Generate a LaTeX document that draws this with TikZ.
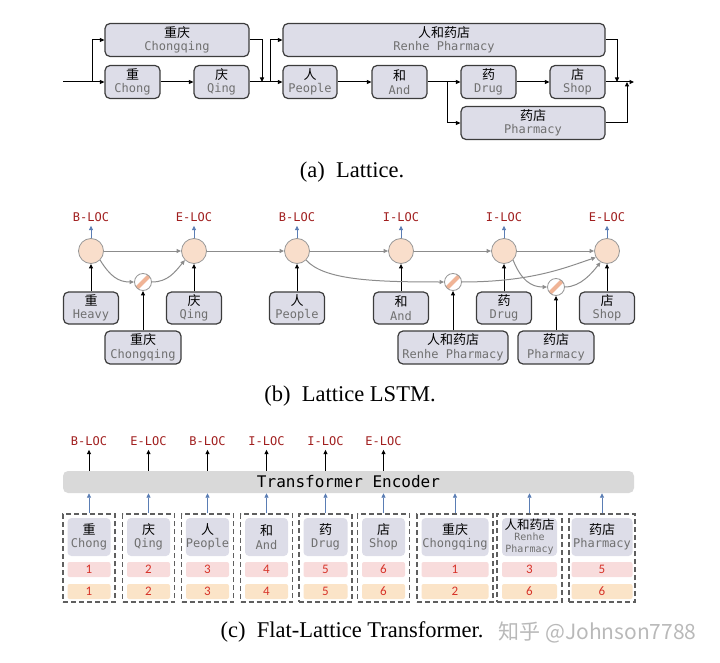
\documentclass[tikz,border=0pt]{standalone}
\usepackage{fontspec}
\setmainfont{Liberation Serif}
\newfontfamily\cjk{Noto Sans CJK SC}
\newfontfamily\mono{DejaVu Sans Mono}
\newfontfamily\numfont{Carlito}
\usepackage{xcolor}
\usetikzlibrary{arrows.meta, positioning}

\definecolor{boxfill}{RGB}{221,221,232}
\definecolor{boxline}{RGB}{60,60,60}
\definecolor{engray}{RGB}{112,112,112}
\definecolor{cellfill}{RGB}{249,222,203}
\definecolor{stripe}{RGB}{240,180,150}
\definecolor{cellline}{RGB}{150,150,150}
\definecolor{tagred}{RGB}{160,30,30}
\definecolor{arrowblue}{RGB}{90,125,180}
\definecolor{linegray}{RGB}{140,140,140}
\definecolor{encfill}{RGB}{217,217,217}
\definecolor{posfill}{RGB}{248,220,220}
\definecolor{posfillb}{RGB}{251,228,200}
\definecolor{numred}{RGB}{215,50,40}
\definecolor{dashline}{RGB}{95,95,95}
\definecolor{markgray}{RGB}{185,185,185}

% chinese word over its english gloss
\newcommand{\wlabel}[2]{{\cjk\fontsize{13}{13}\selectfont #1}\\{\mono\fontsize{12}{12}\selectfont\color{engray}#2}}

\tikzset{
    wordbox/.style={
        rectangle,
        rounded corners=5pt,
        draw=boxline,
        line width=1.2pt,
        fill=boxfill,
        minimum height=33pt,
        inner sep=0pt,
        align=center,
        font=\fontsize{12}{13.5}\selectfont
    },
    tokbox/.style={
        rectangle,
        rounded corners=4pt,
        fill=boxfill,
        minimum height=38pt,
        inner sep=0pt,
        align=center,
        font=\fontsize{12}{13.5}\selectfont
    },
    posbox/.style={
        rectangle,
        rounded corners=2pt,
        fill=posfill,
        minimum height=15pt,
        inner sep=0pt,
        text=numred,
        font=\numfont\fontsize{13}{13}\selectfont
    },
    posboxb/.style={posbox, fill=posfillb},
    grp/.style={
        rectangle,
        draw=dashline,
        dash pattern=on 5pt off 3pt,
        line width=1.1pt,
        minimum height=88pt,
        inner sep=0pt
    },
    cell/.style={circle, draw=cellline, line width=0.8pt, fill=cellfill, minimum size=25pt, inner sep=0pt},
    gate/.style={circle, draw=cellline, line width=0.8pt, fill=white, minimum size=17pt, inner sep=0pt,
        path picture={\draw[stripe, line width=4pt] (path picture bounding box.south west) -- (path picture bounding box.north east);}},
    tagtxt/.style={text=tagred, inner sep=4pt, font=\mono\fontsize{12}{12}\selectfont},
    encoder/.style={rectangle, rounded corners=5pt, fill=encfill, inner sep=0pt, font=\mono\fontsize{16}{16}\selectfont},
    subcap/.style={font=\fontsize{22.5}{24}\selectfont},
    watermark/.style={text=markgray, font=\cjk\fontsize{21}{21}\selectfont},
    flow/.style={-{Triangle[length=4.5pt, width=4pt]}, line width=1pt, draw=black},
    grayflow/.style={flow, draw=linegray},
    blueflow/.style={flow, draw=arrowblue, line width=0.8pt}
}

\begin{document}
\begin{tikzpicture}[x=1pt, y=-1pt]
    \useasboundingbox (0,0) rectangle (720,663);

    % (a) lattice
    \node[wordbox, minimum width=144pt] (chongqing) at (177,40) {\wlabel{重庆}{Chongqing}};
    \node[wordbox, minimum width=55pt] (chong) at (132.5,82) {\wlabel{重}{Chong}};
    \node[wordbox, minimum width=55pt] (qing) at (221.5,82) {\wlabel{庆}{Qing}};
    \node[wordbox, minimum width=322pt] (renhe) at (444,40) {\wlabel{人和药店}{Renhe Pharmacy}};
    \node[wordbox, minimum width=54pt] (ren) at (310,82) {\wlabel{人}{People}};
    \node[wordbox, minimum width=55pt] (he) at (399.5,82) {\wlabel{和}{And}};
    \node[wordbox, minimum width=55pt] (yao) at (488.5,82) {\wlabel{药}{Drug}};
    \node[wordbox, minimum width=55pt] (dian) at (577.5,82) {\wlabel{店}{Shop}};
    \node[wordbox, minimum width=144pt] (yaodian) at (533,123) {\wlabel{药店}{Pharmacy}};

    \coordinate (start) at (63,82);
    \coordinate (split1) at (92,82);
    \coordinate (join1) at (262,82);
    \coordinate (split2) at (270,82);
    \coordinate (split3) at (447,82);
    \coordinate (join2) at (617,82);
    \coordinate (join3) at (627,82);
    \coordinate (stop) at (634,82);

    \draw[flow] (start) -- (chong);
    \draw[flow] (split1) |- (chongqing);
    \draw[flow] (chong) -- (qing);
    \draw[flow] (qing) -- (ren);
    \draw[flow] (chongqing) -| (join1);
    \draw[flow] (split2) |- (renhe);
    \draw[flow] (ren) -- (he);
    \draw[flow] (he) -- (yao);
    \draw[flow] (split3) |- (yaodian);
    \draw[flow] (yao) -- (dian);
    \draw[flow] (dian) -- (stop);
    \draw[flow] (renhe) -| (join2);
    \draw[flow] (yaodian) -| (join3);

    \node[subcap] (capa) at (352,172) {(a)\hspace{0.5em}Lattice.};

    % (b) lattice lstm
    \node[cell] (cell1) at (91,251) {};
    \node[cell] (cell2) at (194,251) {};
    \node[cell] (cell3) at (297,251) {};
    \node[cell] (cell4) at (401,251) {};
    \node[cell] (cell5) at (504,251) {};
    \node[cell] (cell6) at (607,251) {};

    \node[tagtxt] (tag1) at (91,217) {B-LOC};
    \node[tagtxt] (tag2) at (194,217) {E-LOC};
    \node[tagtxt] (tag3) at (297,217) {B-LOC};
    \node[tagtxt] (tag4) at (401,217) {I-LOC};
    \node[tagtxt] (tag5) at (504,217) {I-LOC};
    \node[tagtxt] (tag6) at (607,217) {E-LOC};

    \node[gate] (gate1) at (143,282) {};
    \node[gate] (gate2) at (453,282) {};
    \node[gate] (gate3) at (556,287) {};

    \node[wordbox, minimum width=55pt, minimum height=32pt] (lchong) at (91,308) {\wlabel{重}{Heavy}};
    \node[wordbox, minimum width=55pt, minimum height=32pt] (lqing) at (194,308) {\wlabel{庆}{Qing}};
    \node[wordbox, minimum width=55pt, minimum height=32pt] (lren) at (297,308) {\wlabel{人}{People}};
    \node[wordbox, minimum width=55pt, minimum height=32pt] (lhe) at (401,308) {\wlabel{和}{And}};
    \node[wordbox, minimum width=55pt, minimum height=32pt] (lyao) at (504,308) {\wlabel{药}{Drug}};
    \node[wordbox, minimum width=55pt, minimum height=32pt] (ldian) at (607,308) {\wlabel{店}{Shop}};
    \node[wordbox, minimum width=76pt, minimum height=33pt] (lchongqing) at (143,347.5) {\wlabel{重庆}{Chongqing}};
    \node[wordbox, minimum width=110pt, minimum height=33pt] (lrenhe) at (453,347.5) {\wlabel{人和药店}{Renhe Pharmacy}};
    \node[wordbox, minimum width=76pt, minimum height=33pt] (lyaodian) at (556,347.5) {\wlabel{药店}{Pharmacy}};

    \draw[blueflow] (cell1) -- (tag1);
    \draw[blueflow] (cell2) -- (tag2);
    \draw[blueflow] (cell3) -- (tag3);
    \draw[blueflow] (cell4) -- (tag4);
    \draw[blueflow] (cell5) -- (tag5);
    \draw[blueflow] (cell6) -- (tag6);

    \draw[flow] (lchong) -- (cell1);
    \draw[flow] (lqing) -- (cell2);
    \draw[flow] (lren) -- (cell3);
    \draw[flow] (lhe) -- (cell4);
    \draw[flow] (lyao) -- (cell5);
    \draw[flow] (ldian) -- (cell6);
    \draw[flow] (lchongqing) -- (gate1);
    \draw[flow] (lrenhe) -- (gate2);
    \draw[flow] (lyaodian) -- (gate3);

    \draw[grayflow] (cell1) -- (cell2);
    \draw[grayflow] (cell2) -- (cell3);
    \draw[grayflow] (cell3) -- (cell4);
    \draw[grayflow] (cell4) -- (cell5);
    \draw[grayflow] (cell5) -- (cell6);

    \draw[grayflow] (cell1.-45) .. controls +(10,16) and +(-16,0) .. (gate1.west);
    \draw[grayflow] (gate1.east) .. controls +(16,0) and +(-10,12) .. (cell2.-135);
    \draw[grayflow] (cell3.-45) .. controls +(18,20) and +(-70,0) .. (gate2.west);
    \draw[grayflow] (gate2.east) .. controls +(70,0) and +(-30,10) .. (cell6.-150);
    \draw[grayflow] (cell5.-45) .. controls +(8,20) and +(-16,0) .. (gate3.west);
    \draw[grayflow] (gate3.east) .. controls +(16,0) and +(-8,10) .. (cell6.-120);

    \node[subcap] (capb) at (350,396) {(b)\hspace{0.5em}Lattice LSTM.};

    % (c) flat-lattice transformer
    \node[encoder, minimum width=571pt, minimum height=22pt] (enc) at (348.5,482) {Transformer Encoder};

    \node[tagtxt] (ftag1) at (89,441) {B-LOC};
    \node[tagtxt] (ftag2) at (148.5,441) {E-LOC};
    \node[tagtxt] (ftag3) at (207.5,441) {B-LOC};
    \node[tagtxt] (ftag4) at (266.5,441) {I-LOC};
    \node[tagtxt] (ftag5) at (325.5,441) {I-LOC};
    \node[tagtxt] (ftag6) at (383.5,441) {E-LOC};

    \node[grp, minimum width=52pt] (gchong) at (89,558) {};
    \node[tokbox, minimum width=43pt] (fchong) at (89,537) {\wlabel{重}{Chong}};
    \node[posbox, minimum width=43pt] (pchong) at (89,569.5) {1};
    \node[posboxb, minimum width=43pt] (qchong) at (89,591.5) {1};

    \node[grp, minimum width=52pt] (gqing) at (148.5,558) {};
    \node[tokbox, minimum width=43pt] (fqing) at (148.5,537) {\wlabel{庆}{Qing}};
    \node[posbox, minimum width=43pt] (pqing) at (148.5,569.5) {2};
    \node[posboxb, minimum width=43pt] (qqing) at (148.5,591.5) {2};

    \node[grp, minimum width=52pt] (gren) at (207.5,558) {};
    \node[tokbox, minimum width=43pt] (fren) at (207.5,537) {\wlabel{人}{People}};
    \node[posbox, minimum width=43pt] (pren) at (207.5,569.5) {3};
    \node[posboxb, minimum width=43pt] (qren) at (207.5,591.5) {3};

    \node[grp, minimum width=52pt] (ghe) at (266.5,558) {};
    \node[tokbox, minimum width=43pt] (fhe) at (266.5,537) {\wlabel{和}{And}};
    \node[posbox, minimum width=43pt] (phe) at (266.5,569.5) {4};
    \node[posboxb, minimum width=43pt] (qhe) at (266.5,591.5) {4};

    \node[grp, minimum width=53pt] (gyao) at (325.5,558) {};
    \node[tokbox, minimum width=44pt] (fyao) at (325.5,537) {\wlabel{药}{Drug}};
    \node[posbox, minimum width=44pt] (pyao) at (325.5,569.5) {5};
    \node[posboxb, minimum width=44pt] (qyao) at (325.5,591.5) {5};

    \node[grp, minimum width=52pt] (gdian) at (383.5,558) {};
    \node[tokbox, minimum width=43pt] (fdian) at (383.5,537) {\wlabel{店}{Shop}};
    \node[posbox, minimum width=43pt] (pdian) at (383.5,569.5) {6};
    \node[posboxb, minimum width=43pt] (qdian) at (383.5,591.5) {6};

    \node[grp, minimum width=76pt] (gchongqing) at (455,558) {};
    \node[tokbox, minimum width=67pt] (fchongqing) at (455,537) {\wlabel{重庆}{Chongqing}};
    \node[posbox, minimum width=67pt] (pchongqing) at (455,569.5) {1};
    \node[posboxb, minimum width=67pt] (qchongqing) at (455,591.5) {2};

    \node[grp, minimum width=65pt] (grenhe) at (529.5,558) {};
    \node[tokbox, minimum width=55pt] (frenhe) at (529.5,537) {{\cjk\fontsize{12.5}{12.5}\selectfont 人和药店}\\[-2.5pt]{\mono\fontsize{10}{10}\selectfont\color{engray}Renhe}\\[-1.5pt]{\mono\fontsize{10}{10}\selectfont\color{engray}Pharmacy}};
    \node[posbox, minimum width=55pt] (prenhe) at (529.5,569.5) {3};
    \node[posboxb, minimum width=55pt] (qrenhe) at (529.5,591.5) {6};

    \node[grp, minimum width=66pt] (gyaodian) at (602,558) {};
    \node[tokbox, minimum width=61pt] (fyaodian) at (602,537) {\wlabel{药店}{Pharmacy}};
    \node[posbox, minimum width=61pt] (pyaodian) at (602,569.5) {5};
    \node[posboxb, minimum width=61pt] (qyaodian) at (602,591.5) {6};

    \draw[flow] (ftag1.south |- enc.north) -- (ftag1);
    \draw[flow] (ftag2.south |- enc.north) -- (ftag2);
    \draw[flow] (ftag3.south |- enc.north) -- (ftag3);
    \draw[flow] (ftag4.south |- enc.north) -- (ftag4);
    \draw[flow] (ftag5.south |- enc.north) -- (ftag5);
    \draw[flow] (ftag6.south |- enc.north) -- (ftag6);

    \draw[blueflow] (gchong.north) -- (gchong.north |- enc.south);
    \draw[blueflow] (gqing.north) -- (gqing.north |- enc.south);
    \draw[blueflow] (gren.north) -- (gren.north |- enc.south);
    \draw[blueflow] (ghe.north) -- (ghe.north |- enc.south);
    \draw[blueflow] (gyao.north) -- (gyao.north |- enc.south);
    \draw[blueflow] (gdian.north) -- (gdian.north |- enc.south);
    \draw[blueflow] (gchongqing.north) -- (gchongqing.north |- enc.south);
    \draw[blueflow] (grenhe.north) -- (grenhe.north |- enc.south);
    \draw[blueflow] (gyaodian.north) -- (gyaodian.north |- enc.south);

    \node[subcap] (capc) at (352,632) {(c)\hspace{0.5em}Flat-Lattice Transformer.};
    \node[watermark, anchor=west] (zhihu) at (495,632) {知乎 @Johnson7788};

\end{tikzpicture}
\end{document}
